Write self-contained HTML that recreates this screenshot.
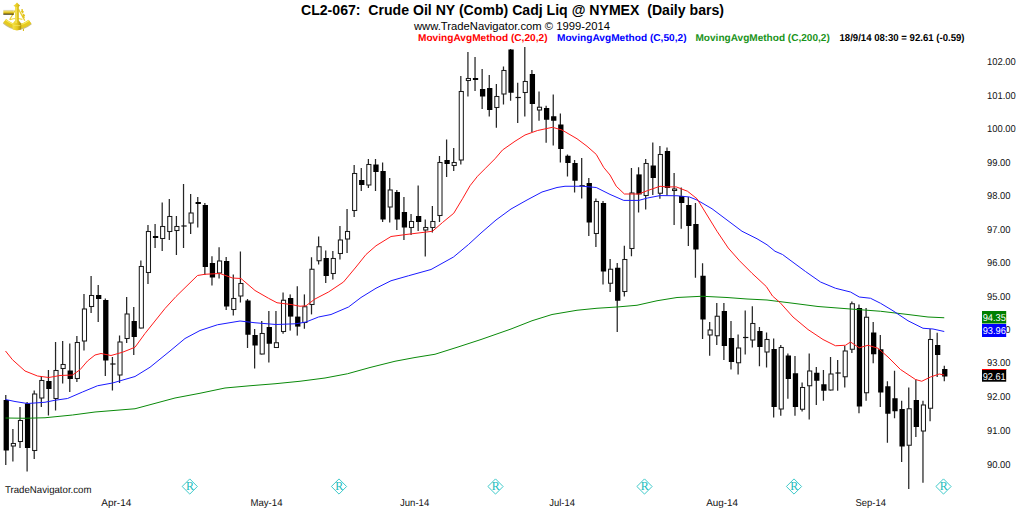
<!DOCTYPE html>
<html lang="en"><head><meta charset="utf-8"><title>CL2-067: Crude Oil NY (Comb) Cadj Liq @ NYMEX (Daily bars)</title>
<style>
html,body{margin:0;padding:0;background:#fff;}
body{width:1024px;height:512px;overflow:hidden;position:relative;}
svg{position:absolute;left:0;top:0;display:block;}
text{font-family:"Liberation Sans",Arial,sans-serif;fill:#000;}
.t1{font-size:14px;font-weight:bold;}
.t2{font-size:11.3px;}
.t3{font-size:10px;text-rendering:geometricPrecision;font-weight:bold;}
.ax{font-size:10px;text-rendering:geometricPrecision;fill:#111;}
.xl{font-size:10px;text-rendering:geometricPrecision;fill:#111;}
.rm{font-family:"Liberation Serif",serif;font-size:12px;fill:#22bcbc;text-anchor:middle;}
</style></head><body>
<svg width="1024" height="512" viewBox="0 0 1024 512">
<rect x="0" y="0" width="1024" height="512" fill="#ffffff"/>
<g>
<rect x="5.15" y="395.00" width="1.25" height="70.00" fill="#262626"/>
<rect x="3.60" y="400.00" width="5.3" height="50.50" fill="#000"/>
<rect x="12.26" y="429.00" width="1.25" height="32.50" fill="#262626"/>
<rect x="11.31" y="443.50" width="4.1" height="2.50" fill="#fff" stroke="#1c1c1c" stroke-width="1.05"/>
<rect x="19.37" y="407.00" width="1.25" height="41.00" fill="#262626"/>
<rect x="18.42" y="420.50" width="4.1" height="21.00" fill="#fff" stroke="#1c1c1c" stroke-width="1.05"/>
<rect x="26.48" y="402.00" width="1.25" height="69.50" fill="#262626"/>
<rect x="24.93" y="403.50" width="5.3" height="44.50" fill="#000"/>
<rect x="33.59" y="390.50" width="1.25" height="68.50" fill="#262626"/>
<rect x="32.64" y="394.00" width="4.1" height="56.50" fill="#fff" stroke="#1c1c1c" stroke-width="1.05"/>
<rect x="40.70" y="376.00" width="1.25" height="31.00" fill="#262626"/>
<rect x="39.75" y="380.50" width="4.1" height="17.50" fill="#fff" stroke="#1c1c1c" stroke-width="1.05"/>
<rect x="47.81" y="370.00" width="1.25" height="45.50" fill="#262626"/>
<rect x="46.26" y="381.00" width="5.3" height="8.00" fill="#000"/>
<rect x="54.92" y="342.00" width="1.25" height="68.50" fill="#262626"/>
<rect x="53.97" y="370.50" width="4.1" height="28.00" fill="#fff" stroke="#1c1c1c" stroke-width="1.05"/>
<rect x="62.03" y="341.00" width="1.25" height="42.50" fill="#262626"/>
<rect x="61.08" y="364.50" width="4.1" height="4.00" fill="#fff" stroke="#1c1c1c" stroke-width="1.05"/>
<rect x="69.14" y="343.50" width="1.25" height="48.50" fill="#262626"/>
<rect x="67.59" y="370.50" width="5.3" height="8.50" fill="#000"/>
<rect x="76.25" y="336.00" width="1.25" height="46.00" fill="#262626"/>
<rect x="75.30" y="342.50" width="4.1" height="36.00" fill="#fff" stroke="#1c1c1c" stroke-width="1.05"/>
<rect x="83.36" y="294.00" width="1.25" height="56.50" fill="#262626"/>
<rect x="82.41" y="309.00" width="4.1" height="32.00" fill="#fff" stroke="#1c1c1c" stroke-width="1.05"/>
<rect x="90.47" y="276.00" width="1.25" height="37.00" fill="#262626"/>
<rect x="89.52" y="295.50" width="4.1" height="11.00" fill="#fff" stroke="#1c1c1c" stroke-width="1.05"/>
<rect x="97.58" y="285.00" width="1.25" height="37.00" fill="#262626"/>
<rect x="96.03" y="295.00" width="5.3" height="4.00" fill="#000"/>
<rect x="104.69" y="298.50" width="1.25" height="77.50" fill="#262626"/>
<rect x="103.14" y="300.00" width="5.3" height="60.50" fill="#000"/>
<rect x="111.80" y="357.00" width="1.25" height="33.50" fill="#262626"/>
<rect x="110.25" y="363.40" width="5.3" height="1.2" fill="#111"/>
<rect x="118.91" y="335.50" width="1.25" height="47.50" fill="#262626"/>
<rect x="117.96" y="342.00" width="4.1" height="33.00" fill="#fff" stroke="#1c1c1c" stroke-width="1.05"/>
<rect x="126.02" y="297.00" width="1.25" height="46.00" fill="#262626"/>
<rect x="125.07" y="314.00" width="4.1" height="24.50" fill="#fff" stroke="#1c1c1c" stroke-width="1.05"/>
<rect x="133.13" y="307.00" width="1.25" height="48.00" fill="#262626"/>
<rect x="131.58" y="321.00" width="5.3" height="16.00" fill="#000"/>
<rect x="140.24" y="260.50" width="1.25" height="68.00" fill="#262626"/>
<rect x="139.29" y="266.50" width="4.1" height="61.50" fill="#fff" stroke="#1c1c1c" stroke-width="1.05"/>
<rect x="147.35" y="225.00" width="1.25" height="59.00" fill="#262626"/>
<rect x="146.40" y="231.50" width="4.1" height="41.00" fill="#fff" stroke="#1c1c1c" stroke-width="1.05"/>
<rect x="154.46" y="224.00" width="1.25" height="24.00" fill="#262626"/>
<rect x="152.91" y="236.00" width="5.3" height="2.00" fill="#000"/>
<rect x="161.57" y="202.50" width="1.25" height="48.50" fill="#262626"/>
<rect x="160.62" y="226.50" width="4.1" height="12.00" fill="#fff" stroke="#1c1c1c" stroke-width="1.05"/>
<rect x="168.68" y="199.00" width="1.25" height="41.00" fill="#262626"/>
<rect x="167.73" y="216.50" width="4.1" height="15.00" fill="#fff" stroke="#1c1c1c" stroke-width="1.05"/>
<rect x="175.79" y="216.00" width="1.25" height="39.00" fill="#262626"/>
<rect x="174.84" y="226.50" width="4.1" height="4.00" fill="#fff" stroke="#1c1c1c" stroke-width="1.05"/>
<rect x="182.90" y="184.00" width="1.25" height="64.00" fill="#262626"/>
<rect x="181.35" y="225.40" width="5.3" height="1.2" fill="#111"/>
<rect x="190.01" y="194.00" width="1.25" height="40.00" fill="#262626"/>
<rect x="189.06" y="213.00" width="4.1" height="10.00" fill="#fff" stroke="#1c1c1c" stroke-width="1.05"/>
<rect x="197.12" y="197.00" width="1.25" height="30.50" fill="#262626"/>
<rect x="195.57" y="202.00" width="5.3" height="2.00" fill="#000"/>
<rect x="204.23" y="203.00" width="1.25" height="72.00" fill="#262626"/>
<rect x="202.68" y="205.00" width="5.3" height="62.00" fill="#000"/>
<rect x="211.34" y="256.25" width="1.25" height="29.25" fill="#262626"/>
<rect x="209.79" y="263.00" width="5.3" height="14.50" fill="#000"/>
<rect x="218.45" y="247.25" width="1.25" height="31.25" fill="#262626"/>
<rect x="217.50" y="261.00" width="4.1" height="12.00" fill="#fff" stroke="#1c1c1c" stroke-width="1.05"/>
<rect x="225.56" y="257.00" width="1.25" height="53.00" fill="#262626"/>
<rect x="224.01" y="261.00" width="5.3" height="45.50" fill="#000"/>
<rect x="232.67" y="274.50" width="1.25" height="41.00" fill="#262626"/>
<rect x="231.72" y="298.50" width="4.1" height="11.00" fill="#fff" stroke="#1c1c1c" stroke-width="1.05"/>
<rect x="239.78" y="251.50" width="1.25" height="51.00" fill="#262626"/>
<rect x="238.83" y="283.50" width="4.1" height="12.50" fill="#fff" stroke="#1c1c1c" stroke-width="1.05"/>
<rect x="246.89" y="299.00" width="1.25" height="49.00" fill="#262626"/>
<rect x="245.34" y="300.50" width="5.3" height="34.25" fill="#000"/>
<rect x="254.00" y="329.00" width="1.25" height="39.50" fill="#262626"/>
<rect x="252.45" y="335.00" width="5.3" height="10.50" fill="#000"/>
<rect x="261.11" y="321.00" width="1.25" height="33.50" fill="#262626"/>
<rect x="260.16" y="333.50" width="4.1" height="20.50" fill="#fff" stroke="#1c1c1c" stroke-width="1.05"/>
<rect x="268.22" y="311.00" width="1.25" height="51.50" fill="#262626"/>
<rect x="266.67" y="327.00" width="5.3" height="16.75" fill="#000"/>
<rect x="275.33" y="311.00" width="1.25" height="37.00" fill="#262626"/>
<rect x="274.38" y="342.75" width="4.1" height="4.75" fill="#fff" stroke="#1c1c1c" stroke-width="1.05"/>
<rect x="282.44" y="292.50" width="1.25" height="41.25" fill="#262626"/>
<rect x="281.49" y="300.25" width="4.1" height="31.25" fill="#fff" stroke="#1c1c1c" stroke-width="1.05"/>
<rect x="289.55" y="294.40" width="1.25" height="36.20" fill="#262626"/>
<rect x="288.00" y="298.00" width="5.3" height="18.60" fill="#000"/>
<rect x="296.66" y="286.25" width="1.25" height="49.35" fill="#262626"/>
<rect x="295.11" y="316.60" width="5.3" height="10.00" fill="#000"/>
<rect x="303.77" y="294.40" width="1.25" height="34.35" fill="#262626"/>
<rect x="302.82" y="306.75" width="4.1" height="15.75" fill="#fff" stroke="#1c1c1c" stroke-width="1.05"/>
<rect x="310.88" y="257.25" width="1.25" height="57.15" fill="#262626"/>
<rect x="309.93" y="269.25" width="4.1" height="35.25" fill="#fff" stroke="#1c1c1c" stroke-width="1.05"/>
<rect x="317.99" y="236.50" width="1.25" height="28.00" fill="#262626"/>
<rect x="317.04" y="246.75" width="4.1" height="14.00" fill="#fff" stroke="#1c1c1c" stroke-width="1.05"/>
<rect x="325.10" y="250.50" width="1.25" height="32.50" fill="#262626"/>
<rect x="323.55" y="258.00" width="5.3" height="18.00" fill="#000"/>
<rect x="332.21" y="251.00" width="1.25" height="28.50" fill="#262626"/>
<rect x="331.26" y="258.50" width="4.1" height="15.00" fill="#fff" stroke="#1c1c1c" stroke-width="1.05"/>
<rect x="339.32" y="226.00" width="1.25" height="33.50" fill="#262626"/>
<rect x="338.37" y="240.00" width="4.1" height="13.50" fill="#fff" stroke="#1c1c1c" stroke-width="1.05"/>
<rect x="346.43" y="209.00" width="1.25" height="44.00" fill="#262626"/>
<rect x="345.48" y="231.50" width="4.1" height="7.50" fill="#fff" stroke="#1c1c1c" stroke-width="1.05"/>
<rect x="353.54" y="165.00" width="1.25" height="52.00" fill="#262626"/>
<rect x="352.59" y="173.50" width="4.1" height="37.00" fill="#fff" stroke="#1c1c1c" stroke-width="1.05"/>
<rect x="360.65" y="168.00" width="1.25" height="23.00" fill="#262626"/>
<rect x="359.10" y="180.00" width="5.3" height="5.00" fill="#000"/>
<rect x="367.76" y="159.00" width="1.25" height="29.00" fill="#262626"/>
<rect x="366.81" y="164.50" width="4.1" height="20.50" fill="#fff" stroke="#1c1c1c" stroke-width="1.05"/>
<rect x="374.87" y="159.00" width="1.25" height="32.00" fill="#262626"/>
<rect x="373.32" y="164.50" width="5.3" height="7.50" fill="#000"/>
<rect x="381.98" y="162.50" width="1.25" height="59.50" fill="#262626"/>
<rect x="380.43" y="171.00" width="5.3" height="48.50" fill="#000"/>
<rect x="389.09" y="178.00" width="1.25" height="44.50" fill="#262626"/>
<rect x="388.14" y="190.00" width="4.1" height="17.00" fill="#fff" stroke="#1c1c1c" stroke-width="1.05"/>
<rect x="396.20" y="190.00" width="1.25" height="40.00" fill="#262626"/>
<rect x="394.65" y="192.00" width="5.3" height="27.50" fill="#000"/>
<rect x="403.31" y="197.00" width="1.25" height="43.00" fill="#262626"/>
<rect x="401.76" y="212.00" width="5.3" height="15.50" fill="#000"/>
<rect x="410.42" y="214.00" width="1.25" height="21.00" fill="#262626"/>
<rect x="409.47" y="221.50" width="4.1" height="6.00" fill="#fff" stroke="#1c1c1c" stroke-width="1.05"/>
<rect x="417.53" y="185.50" width="1.25" height="45.50" fill="#262626"/>
<rect x="415.98" y="216.00" width="5.3" height="6.00" fill="#000"/>
<rect x="424.64" y="219.50" width="1.25" height="37.00" fill="#262626"/>
<rect x="423.69" y="227.50" width="4.1" height="2.50" fill="#fff" stroke="#1c1c1c" stroke-width="1.05"/>
<rect x="431.75" y="206.00" width="1.25" height="26.50" fill="#262626"/>
<rect x="430.80" y="221.50" width="4.1" height="6.00" fill="#fff" stroke="#1c1c1c" stroke-width="1.05"/>
<rect x="438.86" y="156.00" width="1.25" height="66.00" fill="#262626"/>
<rect x="437.91" y="162.50" width="4.1" height="53.00" fill="#fff" stroke="#1c1c1c" stroke-width="1.05"/>
<rect x="445.97" y="139.50" width="1.25" height="37.50" fill="#262626"/>
<rect x="444.42" y="160.00" width="5.3" height="4.00" fill="#000"/>
<rect x="453.08" y="148.00" width="1.25" height="23.00" fill="#262626"/>
<rect x="452.13" y="162.50" width="4.1" height="3.00" fill="#fff" stroke="#1c1c1c" stroke-width="1.05"/>
<rect x="460.19" y="76.00" width="1.25" height="88.50" fill="#262626"/>
<rect x="459.24" y="91.50" width="4.1" height="68.50" fill="#fff" stroke="#1c1c1c" stroke-width="1.05"/>
<rect x="467.30" y="52.00" width="1.25" height="44.50" fill="#262626"/>
<rect x="466.35" y="78.50" width="4.1" height="2.00" fill="#fff" stroke="#1c1c1c" stroke-width="1.05"/>
<rect x="474.41" y="57.00" width="1.25" height="34.00" fill="#262626"/>
<rect x="472.86" y="78.00" width="5.3" height="2.00" fill="#000"/>
<rect x="481.52" y="69.00" width="1.25" height="40.00" fill="#262626"/>
<rect x="479.97" y="89.00" width="5.3" height="7.50" fill="#000"/>
<rect x="488.63" y="75.00" width="1.25" height="41.50" fill="#262626"/>
<rect x="487.08" y="88.00" width="5.3" height="22.00" fill="#000"/>
<rect x="495.74" y="84.00" width="1.25" height="43.75" fill="#262626"/>
<rect x="494.79" y="96.50" width="4.1" height="11.00" fill="#fff" stroke="#1c1c1c" stroke-width="1.05"/>
<rect x="502.85" y="66.50" width="1.25" height="38.00" fill="#262626"/>
<rect x="501.90" y="70.50" width="4.1" height="23.50" fill="#fff" stroke="#1c1c1c" stroke-width="1.05"/>
<rect x="509.96" y="49.00" width="1.25" height="51.75" fill="#262626"/>
<rect x="508.41" y="49.50" width="5.3" height="43.25" fill="#000"/>
<rect x="517.07" y="82.75" width="1.25" height="40.25" fill="#262626"/>
<rect x="515.52" y="96.90" width="5.3" height="1.2" fill="#111"/>
<rect x="524.18" y="47.00" width="1.25" height="69.50" fill="#262626"/>
<rect x="523.23" y="81.50" width="4.1" height="11.00" fill="#fff" stroke="#1c1c1c" stroke-width="1.05"/>
<rect x="531.29" y="70.00" width="1.25" height="62.00" fill="#262626"/>
<rect x="529.74" y="74.00" width="5.3" height="30.00" fill="#000"/>
<rect x="538.40" y="91.50" width="1.25" height="29.25" fill="#262626"/>
<rect x="537.45" y="107.25" width="4.1" height="2.75" fill="#fff" stroke="#1c1c1c" stroke-width="1.05"/>
<rect x="545.51" y="105.75" width="1.25" height="37.00" fill="#262626"/>
<rect x="543.96" y="108.00" width="5.3" height="11.75" fill="#000"/>
<rect x="552.62" y="94.50" width="1.25" height="51.00" fill="#262626"/>
<rect x="551.07" y="116.25" width="5.3" height="4.50" fill="#000"/>
<rect x="559.73" y="113.50" width="1.25" height="49.00" fill="#262626"/>
<rect x="558.18" y="124.50" width="5.3" height="24.50" fill="#000"/>
<rect x="566.84" y="154.50" width="1.25" height="22.00" fill="#262626"/>
<rect x="565.29" y="155.75" width="5.3" height="7.25" fill="#000"/>
<rect x="573.95" y="160.00" width="1.25" height="32.50" fill="#262626"/>
<rect x="572.40" y="163.00" width="5.3" height="17.75" fill="#000"/>
<rect x="581.06" y="158.00" width="1.25" height="40.50" fill="#262626"/>
<rect x="579.51" y="185.15" width="5.3" height="1.2" fill="#111"/>
<rect x="588.17" y="178.00" width="1.25" height="58.00" fill="#262626"/>
<rect x="586.62" y="183.00" width="5.3" height="39.50" fill="#000"/>
<rect x="595.28" y="198.50" width="1.25" height="48.50" fill="#262626"/>
<rect x="594.33" y="201.50" width="4.1" height="32.00" fill="#fff" stroke="#1c1c1c" stroke-width="1.05"/>
<rect x="602.39" y="201.00" width="1.25" height="83.50" fill="#262626"/>
<rect x="600.84" y="203.00" width="5.3" height="68.50" fill="#000"/>
<rect x="609.50" y="259.00" width="1.25" height="33.00" fill="#262626"/>
<rect x="608.55" y="269.25" width="4.1" height="14.00" fill="#fff" stroke="#1c1c1c" stroke-width="1.05"/>
<rect x="616.61" y="263.00" width="1.25" height="69.00" fill="#262626"/>
<rect x="615.06" y="267.75" width="5.3" height="33.00" fill="#000"/>
<rect x="623.72" y="245.75" width="1.25" height="50.75" fill="#262626"/>
<rect x="622.77" y="259.50" width="4.1" height="32.00" fill="#fff" stroke="#1c1c1c" stroke-width="1.05"/>
<rect x="630.83" y="168.00" width="1.25" height="88.25" fill="#262626"/>
<rect x="629.88" y="193.00" width="4.1" height="55.50" fill="#fff" stroke="#1c1c1c" stroke-width="1.05"/>
<rect x="637.94" y="167.25" width="1.25" height="45.25" fill="#262626"/>
<rect x="636.39" y="174.40" width="5.3" height="20.00" fill="#000"/>
<rect x="645.05" y="159.00" width="1.25" height="50.50" fill="#262626"/>
<rect x="644.10" y="163.50" width="4.1" height="32.00" fill="#fff" stroke="#1c1c1c" stroke-width="1.05"/>
<rect x="652.16" y="142.50" width="1.25" height="52.50" fill="#262626"/>
<rect x="650.61" y="165.50" width="5.3" height="12.50" fill="#000"/>
<rect x="659.27" y="146.00" width="1.25" height="52.75" fill="#262626"/>
<rect x="658.32" y="154.50" width="4.1" height="38.75" fill="#fff" stroke="#1c1c1c" stroke-width="1.05"/>
<rect x="666.38" y="147.50" width="1.25" height="48.00" fill="#262626"/>
<rect x="664.83" y="151.00" width="5.3" height="37.00" fill="#000"/>
<rect x="673.49" y="173.00" width="1.25" height="52.00" fill="#262626"/>
<rect x="672.54" y="189.00" width="4.1" height="1.50" fill="#fff" stroke="#1c1c1c" stroke-width="1.05"/>
<rect x="680.60" y="187.50" width="1.25" height="41.25" fill="#262626"/>
<rect x="679.05" y="196.00" width="5.3" height="7.00" fill="#000"/>
<rect x="687.71" y="197.00" width="1.25" height="49.00" fill="#262626"/>
<rect x="686.16" y="205.00" width="5.3" height="21.00" fill="#000"/>
<rect x="694.82" y="203.00" width="1.25" height="74.75" fill="#262626"/>
<rect x="693.27" y="224.00" width="5.3" height="25.50" fill="#000"/>
<rect x="701.93" y="263.25" width="1.25" height="75.75" fill="#262626"/>
<rect x="700.38" y="275.75" width="5.3" height="43.75" fill="#000"/>
<rect x="709.04" y="322.00" width="1.25" height="33.75" fill="#262626"/>
<rect x="708.09" y="330.00" width="4.1" height="5.00" fill="#fff" stroke="#1c1c1c" stroke-width="1.05"/>
<rect x="716.15" y="303.00" width="1.25" height="42.00" fill="#262626"/>
<rect x="715.20" y="316.25" width="4.1" height="19.50" fill="#fff" stroke="#1c1c1c" stroke-width="1.05"/>
<rect x="723.26" y="303.00" width="1.25" height="57.00" fill="#262626"/>
<rect x="721.71" y="311.00" width="5.3" height="35.00" fill="#000"/>
<rect x="730.37" y="321.00" width="1.25" height="48.50" fill="#262626"/>
<rect x="728.82" y="338.00" width="5.3" height="24.00" fill="#000"/>
<rect x="737.48" y="334.50" width="1.25" height="40.00" fill="#262626"/>
<rect x="736.53" y="348.00" width="4.1" height="14.75" fill="#fff" stroke="#1c1c1c" stroke-width="1.05"/>
<rect x="744.59" y="310.50" width="1.25" height="44.00" fill="#262626"/>
<rect x="743.04" y="336.90" width="5.3" height="1.2" fill="#111"/>
<rect x="751.70" y="306.25" width="1.25" height="41.25" fill="#262626"/>
<rect x="750.75" y="323.50" width="4.1" height="16.50" fill="#fff" stroke="#1c1c1c" stroke-width="1.05"/>
<rect x="758.81" y="327.00" width="1.25" height="39.25" fill="#262626"/>
<rect x="757.26" y="331.00" width="5.3" height="16.00" fill="#000"/>
<rect x="765.92" y="332.50" width="1.25" height="35.00" fill="#262626"/>
<rect x="764.97" y="339.50" width="4.1" height="12.50" fill="#fff" stroke="#1c1c1c" stroke-width="1.05"/>
<rect x="773.03" y="338.50" width="1.25" height="79.00" fill="#262626"/>
<rect x="771.48" y="349.00" width="5.3" height="58.00" fill="#000"/>
<rect x="780.14" y="345.00" width="1.25" height="70.75" fill="#262626"/>
<rect x="779.19" y="347.50" width="4.1" height="61.50" fill="#fff" stroke="#1c1c1c" stroke-width="1.05"/>
<rect x="787.25" y="353.50" width="1.25" height="45.25" fill="#262626"/>
<rect x="785.70" y="355.50" width="5.3" height="23.50" fill="#000"/>
<rect x="794.36" y="356.00" width="1.25" height="59.75" fill="#262626"/>
<rect x="792.81" y="373.25" width="5.3" height="33.75" fill="#000"/>
<rect x="801.47" y="382.50" width="1.25" height="29.00" fill="#262626"/>
<rect x="800.52" y="387.50" width="4.1" height="21.75" fill="#fff" stroke="#1c1c1c" stroke-width="1.05"/>
<rect x="808.58" y="353.50" width="1.25" height="66.00" fill="#262626"/>
<rect x="807.63" y="371.00" width="4.1" height="14.75" fill="#fff" stroke="#1c1c1c" stroke-width="1.05"/>
<rect x="815.69" y="367.00" width="1.25" height="38.00" fill="#262626"/>
<rect x="814.14" y="372.75" width="5.3" height="8.00" fill="#000"/>
<rect x="822.80" y="370.00" width="1.25" height="30.75" fill="#262626"/>
<rect x="821.25" y="384.25" width="5.3" height="6.50" fill="#000"/>
<rect x="829.91" y="357.00" width="1.25" height="33.50" fill="#262626"/>
<rect x="828.96" y="374.00" width="4.1" height="16.00" fill="#fff" stroke="#1c1c1c" stroke-width="1.05"/>
<rect x="837.02" y="360.00" width="1.25" height="30.75" fill="#262626"/>
<rect x="835.47" y="372.40" width="5.3" height="1.2" fill="#111"/>
<rect x="844.13" y="346.00" width="1.25" height="41.50" fill="#262626"/>
<rect x="843.18" y="351.00" width="4.1" height="25.75" fill="#fff" stroke="#1c1c1c" stroke-width="1.05"/>
<rect x="851.24" y="301.50" width="1.25" height="51.50" fill="#262626"/>
<rect x="850.29" y="303.75" width="4.1" height="45.50" fill="#fff" stroke="#1c1c1c" stroke-width="1.05"/>
<rect x="858.35" y="304.50" width="1.25" height="108.75" fill="#262626"/>
<rect x="856.80" y="308.00" width="5.3" height="98.50" fill="#000"/>
<rect x="865.46" y="308.00" width="1.25" height="92.75" fill="#262626"/>
<rect x="864.51" y="317.25" width="4.1" height="75.50" fill="#fff" stroke="#1c1c1c" stroke-width="1.05"/>
<rect x="872.57" y="322.00" width="1.25" height="41.25" fill="#262626"/>
<rect x="871.02" y="332.50" width="5.3" height="21.75" fill="#000"/>
<rect x="879.68" y="335.00" width="1.25" height="72.00" fill="#262626"/>
<rect x="878.13" y="349.25" width="5.3" height="43.25" fill="#000"/>
<rect x="886.79" y="381.25" width="1.25" height="61.50" fill="#262626"/>
<rect x="885.24" y="386.25" width="5.3" height="27.50" fill="#000"/>
<rect x="893.90" y="370.75" width="1.25" height="47.50" fill="#262626"/>
<rect x="892.35" y="398.25" width="5.3" height="13.00" fill="#000"/>
<rect x="901.01" y="400.75" width="1.25" height="61.25" fill="#262626"/>
<rect x="899.46" y="409.00" width="5.3" height="37.50" fill="#000"/>
<rect x="908.12" y="387.50" width="1.25" height="101.50" fill="#262626"/>
<rect x="907.17" y="408.75" width="4.1" height="36.50" fill="#fff" stroke="#1c1c1c" stroke-width="1.05"/>
<rect x="915.23" y="379.50" width="1.25" height="57.50" fill="#262626"/>
<rect x="913.68" y="400.00" width="5.3" height="27.00" fill="#000"/>
<rect x="922.34" y="400.75" width="1.25" height="82.00" fill="#262626"/>
<rect x="921.39" y="405.00" width="4.1" height="26.00" fill="#fff" stroke="#1c1c1c" stroke-width="1.05"/>
<rect x="929.45" y="329.00" width="1.25" height="92.25" fill="#262626"/>
<rect x="928.50" y="339.50" width="4.1" height="68.75" fill="#fff" stroke="#1c1c1c" stroke-width="1.05"/>
<rect x="936.56" y="332.75" width="1.25" height="44.25" fill="#262626"/>
<rect x="935.01" y="345.00" width="5.3" height="10.00" fill="#000"/>
<rect x="943.67" y="365.75" width="1.25" height="15.50" fill="#262626"/>
<rect x="942.12" y="369.00" width="5.3" height="7.50" fill="#000"/>
</g>
<polyline points="5.50,418.00 25.00,418.25 45.00,417.75 72.50,415.00 95.00,412.00 135.00,408.75 175.00,398.00 200.00,393.25 225.00,388.00 250.00,385.75 275.00,383.75 300.00,381.25 325.00,378.00 347.50,373.75 370.00,367.50 395.00,361.25 415.00,357.50 435.00,354.25 458.00,347.00 481.00,339.50 511.00,329.00 532.00,320.75 552.00,314.50 577.00,310.25 597.00,308.25 617.00,307.00 637.00,305.25 657.00,300.75 677.00,297.50 702.00,296.25 727.00,297.50 747.00,299.00 767.00,300.00 793.00,303.25 818.00,306.50 850.50,309.00 880.50,311.25 908.00,314.50 928.00,317.00 944.25,317.75" fill="none" stroke="#0a8a0a" stroke-width="1" stroke-linejoin="round"/>
<polyline points="5.50,399.50 15.00,401.50 27.50,403.50 45.00,402.25 55.00,400.25 67.50,398.50 82.50,392.00 97.50,385.75 112.50,383.00 135.00,376.50 150.00,367.25 170.00,351.00 185.00,338.50 200.00,330.50 217.50,324.75 240.00,321.00 255.00,322.75 276.00,324.50 296.00,323.75 306.00,322.00 318.50,317.00 331.00,314.50 348.50,307.00 361.00,297.50 376.00,288.25 391.00,280.75 408.50,275.75 431.00,269.50 453.50,257.00 468.50,244.50 481.00,233.00 496.00,220.00 511.00,209.00 527.00,200.00 542.00,192.00 557.00,187.50 565.00,186.25 582.50,186.25 596.25,187.50 610.00,194.40 623.75,200.40 638.75,200.40 647.50,198.00 660.00,195.60 677.00,195.75 689.50,197.00 697.00,200.00 712.00,208.75 727.00,220.00 742.00,231.25 757.00,238.75 767.00,244.75 775.00,251.25 782.50,254.50 795.00,263.75 805.50,271.50 820.50,282.00 835.50,288.25 850.50,292.00 859.25,297.00 870.50,298.25 880.50,303.25 893.00,310.75 908.00,320.75 923.00,328.25 933.00,329.00 944.25,331.50" fill="none" stroke="#1a1aff" stroke-width="1" stroke-linejoin="round"/>
<polyline points="5.50,351.00 12.50,359.75 25.00,371.00 37.50,376.00 48.75,377.50 60.00,375.50 72.50,375.00 80.00,369.75 87.50,361.00 95.00,355.00 101.00,353.50 111.00,355.50 122.50,352.25 135.00,347.25 145.00,333.50 155.00,321.00 165.00,308.50 176.00,296.50 197.50,275.50 205.00,274.25 220.00,273.50 232.50,278.00 241.00,278.50 255.00,290.50 268.50,298.25 277.00,302.75 291.00,304.50 300.00,306.25 306.00,305.75 315.00,299.00 328.50,292.00 343.50,282.00 356.00,267.00 366.00,254.50 376.00,245.75 391.00,236.50 406.00,234.50 432.50,231.25 442.50,222.50 453.75,213.25 462.50,198.75 470.00,185.75 477.50,176.25 485.00,168.75 495.00,158.75 502.50,150.00 515.00,141.25 525.00,135.00 537.50,130.50 552.50,127.30 562.00,130.00 577.00,138.75 587.00,146.25 596.25,154.40 603.75,167.50 610.00,175.00 616.25,186.25 624.40,194.00 638.75,194.00 647.50,190.60 660.00,186.25 666.25,186.90 676.25,186.90 687.50,191.25 697.00,198.75 707.00,215.00 717.00,231.25 728.25,248.00 739.50,260.75 752.00,273.25 766.25,286.50 772.50,296.00 780.00,302.50 793.00,317.00 808.00,329.50 823.00,339.50 835.50,345.75 845.50,345.25 850.50,342.00 859.25,347.75 868.00,345.25 878.00,348.25 888.00,357.00 900.50,369.50 915.50,379.50 921.75,381.25 930.50,377.00 939.25,374.00 944.25,375.00" fill="none" stroke="#ff1a1a" stroke-width="1" stroke-linejoin="round"/>
<defs>
<linearGradient id="tg" x1="0" y1="0" x2="0" y2="1"><stop offset="0" stop-color="#cfd0e8"/><stop offset="0.22" stop-color="#f2e06a"/><stop offset="0.6" stop-color="#dcbc18"/><stop offset="0.8" stop-color="#8a7410"/><stop offset="1" stop-color="#1e1a04"/></linearGradient>
<linearGradient id="ag" x1="0" y1="0" x2="1" y2="0"><stop offset="0" stop-color="#f4e24a"/><stop offset="0.55" stop-color="#e6c81c"/><stop offset="1" stop-color="#a98d0c"/></linearGradient>
</defs>
<g id="logo">
<path d="M4.6 21.6 Q17 32.6 30.2 22.3" fill="none" stroke="#8f7a10" stroke-width="5.2" opacity="0.5"/>
<path d="M4.7 20.8 Q17 31.6 30 21.6" fill="none" stroke="#e6ca20" stroke-width="4.6"/>
<path d="M5.6 19.6 Q17 29.6 29.2 20.4" fill="none" stroke="#f8ec66" stroke-width="1.1"/>
<path d="M10 19.6 Q16.5 17.6 22.4 19.4" fill="none" stroke="#ecd43a" stroke-width="1.1"/>
<path d="M15.4 10 L9.6 19.8 M18.6 9.4 L24.8 20.6" fill="none" stroke="#e9cf30" stroke-width="1.2"/>
<path d="M22 9.2 L22.6 13.4 M21.2 11.2 L23.6 12 M23.2 14 L24 18.2 M22.2 16.6 L24.8 15" fill="none" stroke="#e2c31e" stroke-width="1.5"/>
<rect x="3.3" y="9.9" width="10.5" height="4.8" fill="url(#tg)"/>
<path d="M17 2.4 L18.4 4 L20 5.6 L18.8 6.8 L18.8 20.4 L21.2 23.4 L21.2 29.6 Q17 31.2 12.6 29.6 L12.6 23.4 L15.1 20.4 L15.1 6.8 L13.4 5.8 L15.4 4.2 Z" fill="url(#ag)"/>
<path d="M16.1 7 L16.1 23" stroke="#f8ee7a" stroke-width="0.9" fill="none"/>
<path d="M13.4 25.6 L20.4 25.6" stroke="#f3e25a" stroke-width="0.8" fill="none"/>
<rect x="22.9" y="28.8" width="1.1" height="2.2" fill="#dcbc1c"/>
</g>
<text class="t1" x="301" y="14.5" xml:space="preserve" textLength="423" lengthAdjust="spacingAndGlyphs">CL2-067:  Crude Oil NY (Comb) Cadj Liq @ NYMEX  (Daily bars)</text>
<text class="t2" x="414" y="30" textLength="196" lengthAdjust="spacingAndGlyphs">www.TradeNavigator.com © 1999-2014</text>
<text class="t3" x="418" y="41" style="fill:#ff0000" textLength="129.5" lengthAdjust="spacingAndGlyphs">MovingAvgMethod (C,20,2)</text>
<text class="t3" x="557" y="41" style="fill:#0000ff" textLength="129.5" lengthAdjust="spacingAndGlyphs">MovingAvgMethod (C,50,2)</text>
<text class="t3" x="695.5" y="41" style="fill:#1a931a" textLength="134.25" lengthAdjust="spacingAndGlyphs">MovingAvgMethod (C,200,2)</text>
<text class="t3" x="839.5" y="41" textLength="125" lengthAdjust="spacingAndGlyphs">18/9/14 08:30 = 92.61 (-0.59)</text>
<text class="ax" x="987" y="65.0" textLength="28.7" lengthAdjust="spacingAndGlyphs">102.00</text>
<text class="ax" x="987" y="98.5" textLength="28.7" lengthAdjust="spacingAndGlyphs">101.00</text>
<text class="ax" x="987" y="132.1" textLength="28.7" lengthAdjust="spacingAndGlyphs">100.00</text>
<text class="ax" x="987" y="165.6" textLength="23.5" lengthAdjust="spacingAndGlyphs">99.00</text>
<text class="ax" x="987" y="199.2" textLength="23.5" lengthAdjust="spacingAndGlyphs">98.00</text>
<text class="ax" x="987" y="232.7" textLength="23.5" lengthAdjust="spacingAndGlyphs">97.00</text>
<text class="ax" x="987" y="266.2" textLength="23.5" lengthAdjust="spacingAndGlyphs">96.00</text>
<text class="ax" x="987" y="299.8" textLength="23.5" lengthAdjust="spacingAndGlyphs">95.00</text>
<text class="ax" x="987" y="333.3" textLength="23.5" lengthAdjust="spacingAndGlyphs">94.00</text>
<text class="ax" x="987" y="366.4" textLength="23.5" lengthAdjust="spacingAndGlyphs">93.00</text>
<text class="ax" x="987" y="400.4" textLength="23.5" lengthAdjust="spacingAndGlyphs">92.00</text>
<text class="ax" x="987" y="433.9" textLength="23.5" lengthAdjust="spacingAndGlyphs">91.00</text>
<text class="ax" x="987" y="467.5" textLength="23.5" lengthAdjust="spacingAndGlyphs">90.00</text>
<rect x="982" y="311" width="24.2" height="12.5" fill="#008000"/>
<text class="ax" x="982.7" y="321" style="fill:#fff" textLength="23.2" lengthAdjust="spacingAndGlyphs">94.35</text>
<rect x="982" y="324" width="24.2" height="13" fill="#0000ff"/>
<text class="ax" x="982.7" y="334" style="fill:#fff" textLength="23.2" lengthAdjust="spacingAndGlyphs">93.96</text>
<rect x="982" y="369" width="24.2" height="12.7" fill="#000"/>
<rect x="982" y="369" width="24.2" height="1" fill="#ff0000"/>
<text class="ax" x="982.7" y="379.5" style="fill:#fff" textLength="23" lengthAdjust="spacingAndGlyphs">92.61</text>
<text class="xl" x="5" y="493" textLength="86.5" lengthAdjust="spacingAndGlyphs">TradeNavigator.com</text>
<text class="xl" x="101.25" y="506.2" textLength="30.00" lengthAdjust="spacingAndGlyphs">Apr-14</text>
<text class="xl" x="250.50" y="506.2" textLength="32.00" lengthAdjust="spacingAndGlyphs">May-14</text>
<text class="xl" x="400.00" y="506.2" textLength="29.25" lengthAdjust="spacingAndGlyphs">Jun-14</text>
<text class="xl" x="549.25" y="506.2" textLength="25.75" lengthAdjust="spacingAndGlyphs">Jul-14</text>
<text class="xl" x="706.25" y="506.2" textLength="31.75" lengthAdjust="spacingAndGlyphs">Aug-14</text>
<text class="xl" x="855.50" y="506.2" textLength="30.50" lengthAdjust="spacingAndGlyphs">Sep-14</text>
<polygon points="182.15,486.50 189.75,478.90 197.35,486.50 189.75,494.10" fill="none" stroke="#3fcaca" stroke-width="1"/>
<text class="rm" x="190.05" y="490.4">R</text>
<polygon points="331.40,486.50 339.00,478.90 346.60,486.50 339.00,494.10" fill="none" stroke="#3fcaca" stroke-width="1"/>
<text class="rm" x="339.30" y="490.4">R</text>
<polygon points="487.90,486.50 495.50,478.90 503.10,486.50 495.50,494.10" fill="none" stroke="#3fcaca" stroke-width="1"/>
<text class="rm" x="495.80" y="490.4">R</text>
<polygon points="636.90,486.50 644.50,478.90 652.10,486.50 644.50,494.10" fill="none" stroke="#3fcaca" stroke-width="1"/>
<text class="rm" x="644.80" y="490.4">R</text>
<polygon points="786.40,486.50 794.00,478.90 801.60,486.50 794.00,494.10" fill="none" stroke="#3fcaca" stroke-width="1"/>
<text class="rm" x="794.30" y="490.4">R</text>
<polygon points="935.90,486.50 943.50,478.90 951.10,486.50 943.50,494.10" fill="none" stroke="#3fcaca" stroke-width="1"/>
<text class="rm" x="943.80" y="490.4">R</text>
</svg>
</body></html>
